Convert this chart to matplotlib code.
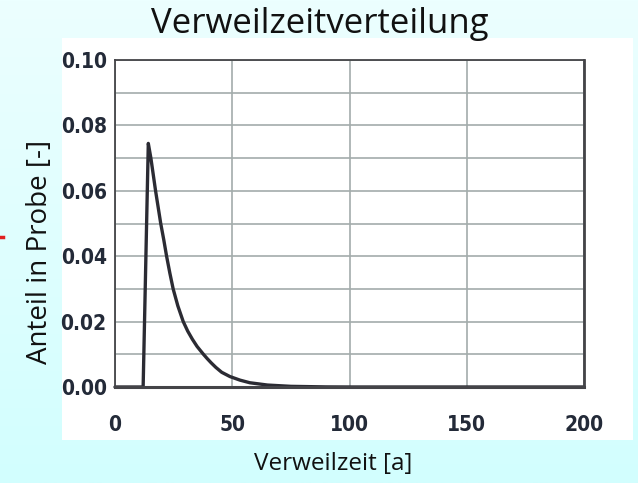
import numpy as np
import matplotlib
matplotlib.use("Agg")
import matplotlib.pyplot as plt
from matplotlib.patches import Rectangle
from matplotlib.lines import Line2D
from matplotlib.colors import LinearSegmentedColormap

# Data
time_a = [0, 12, 14.2, 15.3, 17.3, 19.5, 20.8, 22.0, 23.4, 24.8, 26.8, 29.1, 31.0,
          33.0, 35.0, 37.6, 39.3, 41.0, 43.0, 45.5, 49.0, 53.3, 57.5, 65.0, 75.0,
          90.0, 100, 150, 200]
fraction = [0, 0, 0.0745, 0.0700, 0.0600, 0.0500, 0.0450, 0.0400, 0.0348, 0.0300,
            0.0248, 0.0200, 0.0171, 0.0146, 0.0124, 0.0101, 0.0087, 0.0074, 0.0060,
            0.0045, 0.0032, 0.0021, 0.0013, 0.0006, 0.0002, 0.00003, 0.0, 0.0, 0.0]
xticks = [0, 50, 100, 150, 200]
yticks = [0.00, 0.02, 0.04, 0.06, 0.08, 0.10]
ygrid = [0.01, 0.03, 0.05, 0.07, 0.09]

W, H = 638, 483
fig = plt.figure(figsize=(W / 100, H / 100), dpi=100)

# background gradient
bg = fig.add_axes([0, 0, 1, 1], zorder=-10)
grad = np.linspace(0, 1, 256).reshape(-1, 1)
cmap = LinearSegmentedColormap.from_list("bg", ["#ecffff", "#d2fefe"])
bg.imshow(grad, aspect="auto", cmap=cmap, extent=[0, 1, 0, 1], origin="upper")
bg.set_xlim(0, 1); bg.set_ylim(0, 1)
bg.axis("off")
# white panel
bg.add_patch(Rectangle((62 / W, (H - 440) / H), (633 - 62) / W, (440 - 38) / H,
                       facecolor="white", edgecolor="none"))
# small red mark at left edge
bg.add_line(Line2D([0 / W, 3 / W], [(H - 237) / H, (H - 237) / H], color="#e02020", lw=2.5))

ax = fig.add_axes([115 / W, (H - 387) / H, (584 - 115) / W, (387 - 60) / H])
ax.set_facecolor("none")
ax.set_xlim(0, 200)
ax.set_ylim(0, 0.10)
ax.set_xticks(xticks)
ax.set_yticks(yticks)
ax.set_yticks(ygrid, minor=True)
ax.grid(True, which="both", color="#a3acab", lw=1.2)
ax.set_axisbelow(True)
ax.tick_params(axis="both", which="both", length=0)
ax.tick_params(axis="y", pad=6)
ax.tick_params(axis="x", pad=20)

tick_font = dict(family=["DejaVu Sans"], stretch="condensed", weight="bold", size=15)
ax.set_xticklabels([str(v) for v in xticks], color="#232a38", **tick_font)
ax.set_yticklabels([f"{v:.2f}" for v in yticks], color="#232a38", **tick_font)

for s in ax.spines.values():
    s.set_color("#444448")
    s.set_linewidth(1.3)
ax.spines["bottom"].set_linewidth(2.2)
ax.spines["right"].set_linewidth(2.0)

ax.plot(time_a, fraction, color="#2b2b33", lw=2.4, solid_joinstyle="round",
        solid_capstyle="round", clip_on=False)

lab_font = ["Open Sans", "DejaVu Sans"]
fig.text(320 / W, 1 - 24 / H, "Verweilzeitverteilung", ha="center", va="center",
         fontsize=25, family=lab_font, color="#111111")
fig.text(40 / W, 1 - 252 / H, "Anteil in Probe [-]", ha="center", va="center",
         rotation=90, fontsize=20, family=lab_font, color="#111111")
fig.text(333 / W, 1 - 464 / H, "Verweilzeit [a]", ha="center", va="center",
         fontsize=17.5, family=lab_font, color="#111111")

fig.savefig("out.png", dpi=100)
